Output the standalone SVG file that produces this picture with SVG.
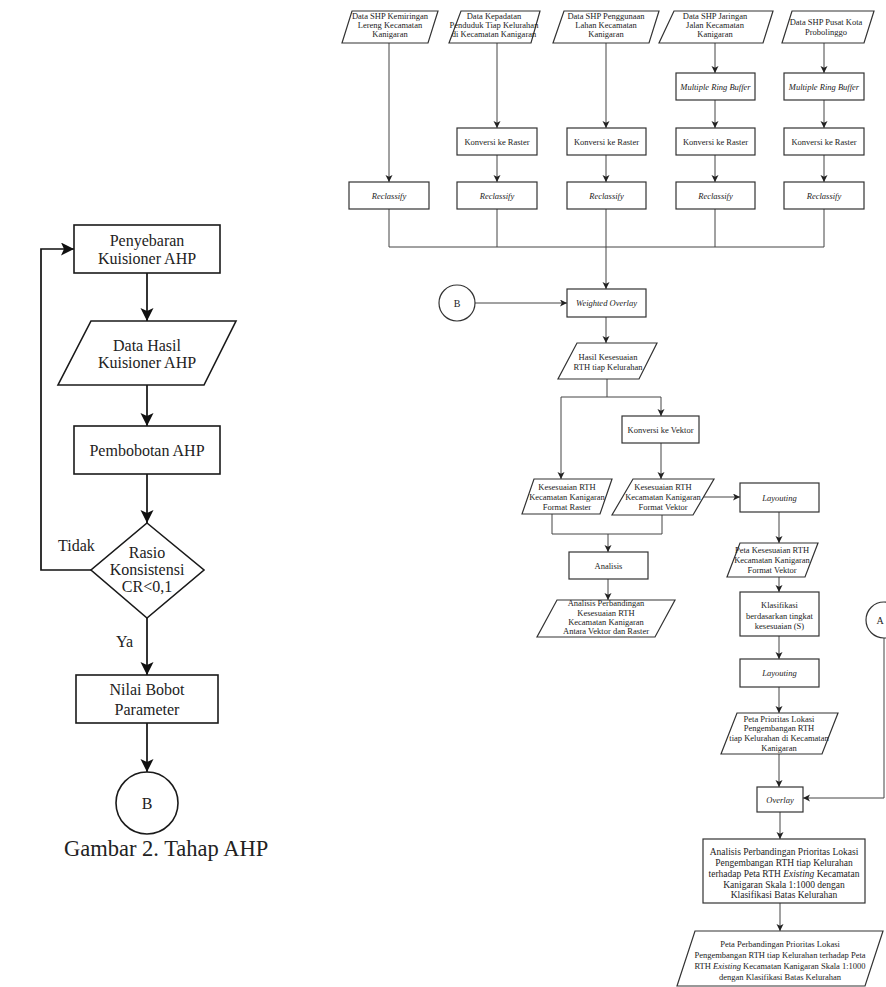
<svg xmlns="http://www.w3.org/2000/svg" width="886" height="987" viewBox="0 0 886 987">
<style>
.bg{fill:#fff}
.box{fill:#fff;stroke:#333;stroke-width:1.2}
.lbox{fill:#fff;stroke:#1a1a1a;stroke-width:1.6}
.ln{fill:none;stroke:#444;stroke-width:1}
.lln{fill:none;stroke:#111;stroke-width:1.7}
.t{font-family:"Liberation Serif","Times New Roman",serif;font-size:8.5px;fill:#222;text-anchor:middle}
.i{font-style:italic}
.b{font-size:9.5px}
.lt{font-family:"Liberation Serif","Times New Roman",serif;font-size:16px;fill:#222;text-anchor:middle}
.cap{font-family:"Liberation Serif","Times New Roman",serif;font-size:22.5px;fill:#222}
</style>
<defs>
<marker id="as" markerWidth="8" markerHeight="8" refX="7" refY="3.5" orient="auto" markerUnits="userSpaceOnUse">
<path d="M0,0 L7,3.5 L0,7 L1.8,3.5 z" fill="#222"/>
</marker>
<marker id="al" markerWidth="14" markerHeight="14" refX="13" refY="6.5" orient="auto" markerUnits="userSpaceOnUse">
<path d="M0,0 L13,6.5 L0,13 L3,6.5 z" fill="#111"/>
</marker>
</defs>
<rect class="bg" x="0" y="0" width="886" height="987"/>

<!-- ===== Left flowchart connectors ===== -->
<g id="left-connectors">
<line class="lln" x1="147" y1="273" x2="147" y2="321" marker-end="url(#al)"/>
<line class="lln" x1="147" y1="385" x2="147" y2="426" marker-end="url(#al)"/>
<line class="lln" x1="147" y1="474" x2="147" y2="523" marker-end="url(#al)"/>
<polyline class="lln" points="91,570 41,570 41,249 74,249" marker-end="url(#al)"/>
<line class="lln" x1="147" y1="618" x2="147" y2="675" marker-end="url(#al)"/>
<line class="lln" x1="147" y1="723" x2="147" y2="772" marker-end="url(#al)"/>
<text class="lt" x="58" y="551" style="text-anchor:start">Tidak</text>
<text class="lt" x="116" y="647" style="text-anchor:start">Ya</text>
</g>

<g id="l-penyebaran">
<rect class="lbox" x="74" y="225" width="146" height="48"/>
<text class="lt" x="147" y="246">Penyebaran</text>
<text class="lt" x="147" y="264">Kuisioner AHP</text>
</g>
<g id="l-datahasil">
<polygon class="lbox" points="91,321 236,321 204,385 58,385"/>
<text class="lt" x="147" y="351">Data Hasil</text>
<text class="lt" x="147" y="368">Kuisioner AHP</text>
</g>
<g id="l-pembobotan">
<rect class="lbox" x="74" y="426" width="146" height="48"/>
<text class="lt" x="147" y="455.5">Pembobotan AHP</text>
</g>
<g id="l-rasio">
<polygon class="lbox" points="147,523 204,570 147,618 91,570"/>
<text class="lt" x="147" y="558">Rasio</text>
<text class="lt" x="147" y="575">Konsistensi</text>
<text class="lt" x="147" y="592">CR&lt;0,1</text>
</g>
<g id="l-nilai">
<rect class="lbox" x="76" y="675" width="142" height="48"/>
<text class="lt" x="147" y="695">Nilai Bobot</text>
<text class="lt" x="147" y="715">Parameter</text>
</g>
<g id="l-B">
<circle class="lbox" cx="147" cy="803" r="31"/>
<text class="lt" x="147" y="809">B</text>
</g>
<text class="cap" x="64" y="856">Gambar 2. Tahap AHP</text>

<!-- ===== Right flowchart connectors ===== -->
<g id="connectors">
<line class="ln" x1="389" y1="43" x2="389" y2="182" marker-end="url(#as)"/>
<line class="ln" x1="497" y1="43" x2="497" y2="128" marker-end="url(#as)"/>
<line class="ln" x1="497" y1="155" x2="497" y2="182" marker-end="url(#as)"/>
<line class="ln" x1="606" y1="43" x2="606" y2="128" marker-end="url(#as)"/>
<line class="ln" x1="606" y1="155" x2="606" y2="182" marker-end="url(#as)"/>
<line class="ln" x1="715" y1="43" x2="715" y2="73" marker-end="url(#as)"/>
<line class="ln" x1="715" y1="100" x2="715" y2="128" marker-end="url(#as)"/>
<line class="ln" x1="715" y1="155" x2="715" y2="182" marker-end="url(#as)"/>
<line class="ln" x1="824" y1="43" x2="824" y2="73" marker-end="url(#as)"/>
<line class="ln" x1="824" y1="100" x2="824" y2="128" marker-end="url(#as)"/>
<line class="ln" x1="824" y1="155" x2="824" y2="182" marker-end="url(#as)"/>
<path class="ln" d="M389,209 V247 M497,209 V247 M606,209 V247 M715,209 V247 M824,209 V247 M389,247 H824"/>
<line class="ln" x1="606" y1="247" x2="606" y2="289" marker-end="url(#as)"/>
<line class="ln" x1="475" y1="303" x2="567" y2="303" marker-end="url(#as)"/>
<line class="ln" x1="606" y1="317" x2="606" y2="343" marker-end="url(#as)"/>
<path class="ln" d="M607,379 V397 M561,397 H661"/>
<line class="ln" x1="561" y1="397" x2="561" y2="479" marker-end="url(#as)"/>
<line class="ln" x1="661" y1="397" x2="661" y2="416" marker-end="url(#as)"/>
<line class="ln" x1="661" y1="443" x2="661" y2="479" marker-end="url(#as)"/>
<line class="ln" x1="703" y1="497" x2="740" y2="497" marker-end="url(#as)"/>
<path class="ln" d="M552,514 V534 M662,515 V534 M552,534 H662"/>
<line class="ln" x1="608" y1="534" x2="608" y2="552" marker-end="url(#as)"/>
<line class="ln" x1="608" y1="579" x2="608" y2="600" marker-end="url(#as)"/>
<line class="ln" x1="779" y1="512" x2="779" y2="543" marker-end="url(#as)"/>
<line class="ln" x1="779" y1="577" x2="779" y2="592" marker-end="url(#as)"/>
<line class="ln" x1="779" y1="636" x2="779" y2="659" marker-end="url(#as)"/>
<line class="ln" x1="779" y1="687" x2="779" y2="713" marker-end="url(#as)"/>
<line class="ln" x1="779" y1="754" x2="779" y2="787" marker-end="url(#as)"/>
<polyline class="ln" points="884,638 884,798 803,798" marker-end="url(#as)"/>
<line class="ln" x1="780" y1="812" x2="780" y2="839" marker-end="url(#as)"/>
<line class="ln" x1="780" y1="903" x2="780" y2="931" marker-end="url(#as)"/>
</g>

<!-- top data parallelograms -->
<g id="d1">
<polygon class="box" points="352,11 438,11 428,43 342,43"/>
<text class="t" x="390" y="18.5">Data SHP Kemiringan</text>
<text class="t" x="390" y="27.5">Lereng Kecamatan</text>
<text class="t" x="390" y="37">Kanigaran</text>
</g>
<g id="d2">
<polygon class="box" points="461,11 540,11 531,43 449,43"/>
<text class="t" x="494" y="18.5">Data Kepadatan</text>
<text class="t" x="494" y="27.5">Penduduk Tiap Kelurahan</text>
<text class="t" x="494" y="37">di Kecamatan Kanigaran</text>
</g>
<g id="d3">
<polygon class="box" points="564,11 659,11 649,43 553,43"/>
<text class="t" x="606" y="18.5">Data SHP Penggunaan</text>
<text class="t" x="606" y="27.5">Lahan Kecamatan</text>
<text class="t" x="606" y="37">Kanigaran</text>
</g>
<g id="d4">
<polygon class="box" points="674,11 773,11 763,43 659,43"/>
<text class="t" x="715" y="18.5">Data SHP Jaringan</text>
<text class="t" x="715" y="27.5">Jalan Kecamatan</text>
<text class="t" x="715" y="37">Kanigaran</text>
</g>
<g id="d5">
<polygon class="box" points="792,11 874,11 864,43 782,43"/>
<text class="t" x="826" y="25">Data SHP Pusat Kota</text>
<text class="t" x="826" y="35">Probolinggo</text>
</g>

<g id="mrb4"><rect class="box" x="676" y="73" width="79" height="27"/><text class="t i" x="715.5" y="89.5">Multiple Ring Buffer</text></g>
<g id="mrb5"><rect class="box" x="784" y="73" width="80" height="27"/><text class="t i" x="824" y="89.5">Multiple Ring Buffer</text></g>

<g id="kr2"><rect class="box" x="457" y="128" width="80" height="27"/><text class="t" x="497" y="144.5">Konversi ke Raster</text></g>
<g id="kr3"><rect class="box" x="567" y="128" width="79" height="27"/><text class="t" x="606.5" y="144.5">Konversi ke Raster</text></g>
<g id="kr4"><rect class="box" x="676" y="128" width="79" height="27"/><text class="t" x="715.5" y="144.5">Konversi ke Raster</text></g>
<g id="kr5"><rect class="box" x="784" y="128" width="80" height="27"/><text class="t" x="824" y="144.5">Konversi ke Raster</text></g>

<g id="rc1"><rect class="box" x="349" y="182" width="80" height="27"/><text class="t i" x="389" y="198.5">Reclassify</text></g>
<g id="rc2"><rect class="box" x="457" y="182" width="80" height="27"/><text class="t i" x="497" y="198.5">Reclassify</text></g>
<g id="rc3"><rect class="box" x="567" y="182" width="79" height="27"/><text class="t i" x="606.5" y="198.5">Reclassify</text></g>
<g id="rc4"><rect class="box" x="676" y="182" width="79" height="27"/><text class="t i" x="715.5" y="198.5">Reclassify</text></g>
<g id="rc5"><rect class="box" x="784" y="182" width="80" height="27"/><text class="t i" x="824" y="198.5">Reclassify</text></g>

<g id="cB"><circle class="box" cx="457" cy="303" r="18"/><text class="t" x="457" y="306.5" style="font-size:10px">B</text></g>
<g id="wo"><rect class="box" x="567" y="289" width="79" height="28"/><text class="t i" x="606.5" y="306">Weighted Overlay</text></g>
<g id="hasil">
<polygon class="box" points="577,343 657,343 639,379 558,379"/>
<text class="t" x="608" y="360">Hasil Kesesuaian</text>
<text class="t" x="608" y="370">RTH tiap Kelurahan</text>
</g>
<g id="kv"><rect class="box" x="622" y="416" width="77" height="27"/><text class="t" x="660.5" y="432.5">Konversi ke Vektor</text></g>
<g id="pr">
<polygon class="box" points="534,479 612,479 600,514 522,514"/>
<text class="t" x="567" y="490">Kesesuaian RTH</text>
<text class="t" x="567" y="500">Kecamatan Kanigaran</text>
<text class="t" x="567" y="510">Format Raster</text>
</g>
<g id="pv">
<polygon class="box" points="633,479 714,479 693,515 612,515"/>
<text class="t" x="663" y="490">Kesesuaian RTH</text>
<text class="t" x="663" y="500">Kecamatan Kanigaran</text>
<text class="t" x="663" y="510">Format Vektor</text>
</g>
<g id="an"><rect class="box" x="569" y="552" width="79" height="27"/><text class="t" x="608.5" y="568.5">Analisis</text></g>
<g id="apk">
<polygon class="box" points="557,600 675,600 655,637 537,637"/>
<text class="t" x="606" y="606">Analisis Perbandingan</text>
<text class="t" x="606" y="615.5">Kesesuaian RTH</text>
<text class="t" x="606" y="625">Kecamatan Kanigaran</text>
<text class="t" x="606" y="634">Antara Vektor dan Raster</text>
</g>
<g id="lay1"><rect class="box" x="740" y="483" width="79" height="29"/><text class="t i" x="779.5" y="500.5">Layouting</text></g>
<g id="pks">
<polygon class="box" points="740,543 818,543 805,577 727,577"/>
<text class="t" x="772" y="553">Peta Kesesuaian RTH</text>
<text class="t" x="772" y="563">Kecamatan Kanigaran</text>
<text class="t" x="772" y="572.5">Format Vektor</text>
</g>
<g id="kls">
<rect class="box" x="740" y="592" width="79" height="44"/>
<text class="t" x="779.5" y="608">Klasifikasi</text>
<text class="t" x="779.5" y="618.5">berdasarkan tingkat</text>
<text class="t" x="779.5" y="629">kesesuaian (S)</text>
</g>
<g id="lay2"><rect class="box" x="740" y="659" width="79" height="28"/><text class="t i" x="779.5" y="676">Layouting</text></g>
<g id="ppl">
<polygon class="box" points="737,713 838,713 822,754 721,754"/>
<text class="t" x="779" y="721.5">Peta Prioritas Lokasi</text>
<text class="t" x="779" y="731">Pengembangan RTH</text>
<text class="t" x="779" y="741">tiap Kelurahan di Kecamatan</text>
<text class="t" x="779" y="750.5">Kanigaran</text>
</g>
<g id="cA"><circle class="box" cx="884" cy="620" r="18"/><text class="t" x="880" y="623.5" style="font-size:10px">A</text></g>
<g id="ov"><rect class="box" x="757" y="787" width="46" height="25"/><text class="t i" x="780" y="802.5">Overlay</text></g>
<g id="apl">
<rect class="box" x="703" y="839" width="162" height="64"/>
<text class="t b" x="784" y="854.5">Analisis Perbandingan Prioritas Lokasi</text>
<text class="t b" x="784" y="865.5">Pengembangan RTH tiap Kelurahan</text>
<text class="t b" x="784" y="876.5">terhadap Peta RTH <tspan class="i">Existing</tspan> Kecamatan</text>
<text class="t b" x="784" y="887.5">Kanigaran Skala 1:1000 dengan</text>
<text class="t b" x="784" y="898">Klasifikasi Batas Kelurahan</text>
</g>
<g id="ppb">
<polygon class="box" points="695,931 883,931 865,986 677,986"/>
<text class="t" x="780" y="946.5">Peta Perbandingan Prioritas Lokasi</text>
<text class="t" x="780" y="957.5">Pengembangan RTH tiap Kelurahan terhadap Peta</text>
<text class="t" x="780" y="968.5">RTH <tspan class="i">Existing</tspan> Kecamatan Kanigaran Skala 1:1000</text>
<text class="t" x="780" y="979.5">dengan Klasifikasi Batas Kelurahan</text>
</g>
</svg>
